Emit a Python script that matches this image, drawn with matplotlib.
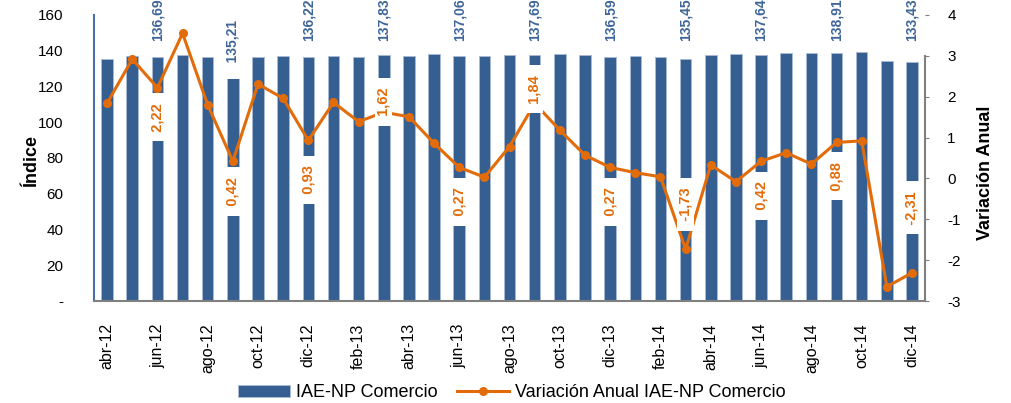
import numpy as np
import matplotlib
import matplotlib.pyplot as plt

matplotlib.use('Agg')
plt.rcParams['axes.unicode_minus'] = False
plt.rcParams['font.family'] = ['Liberation Sans', 'DejaVu Sans']

# Data
months = ['abr-12', 'may-12', 'jun-12', 'jul-12', 'ago-12', 'sep-12', 'oct-12', 'nov-12', 'dic-12',
          'ene-13', 'feb-13', 'mar-13', 'abr-13', 'may-13', 'jun-13', 'jul-13', 'ago-13', 'sep-13',
          'oct-13', 'nov-13', 'dic-13', 'ene-14', 'feb-14', 'mar-14', 'abr-14', 'may-14', 'jun-14',
          'jul-14', 'ago-14', 'sep-14', 'oct-14', 'nov-14', 'dic-14']
indice = [135.2, 137.0, 136.69, 137.4, 136.7, 135.21, 136.7, 137.0, 136.22,
          137.0, 136.7, 137.83, 137.3, 138.2, 137.06, 137.3, 137.7, 137.69,
          138.0, 137.7, 136.59, 137.0, 136.5, 135.45, 137.7, 138.0, 137.64,
          138.5, 138.5, 138.91, 139.5, 134.1, 133.43]
variacion = [1.84, 2.92, 2.22, 3.55, 1.80, 0.42, 2.31, 1.96, 0.93,
             1.86, 1.39, 1.62, 1.51, 0.86, 0.27, 0.03, 0.78, 1.84,
             1.18, 0.57, 0.27, 0.14, 0.04, -1.73, 0.33, -0.08, 0.42,
             0.63, 0.35, 0.88, 0.92, -2.65, -2.31]
labeled = [2, 5, 8, 11, 14, 17, 20, 23, 26, 29, 32]

# label placement (not data)
var_label_y = [1.50, -0.32, -0.03, 1.88, -0.57, 2.18, -0.57, -0.63, -0.42, 0.05, -0.72]
bar_label_y = 145.5

BLUE = '#365f91'
ORANGE = '#e36c0a'
LABEL_BLUE = '#3f6699'
GRAY = '#808080'

fig = plt.figure(figsize=(10.11, 4.03), dpi=100)
ax = fig.add_axes([0.093, 0.2531, 0.822, 0.7097])
ax2 = ax.twinx()

x = np.arange(len(months))
ax.bar(x, indice, width=0.46, color=BLUE, edgecolor='#a9bbd5', linewidth=0.6, zorder=2,
       label='IAE-NP Comercio')
ax.set_xlim(-0.52, len(months) - 0.48)
ax.set_ylim(0, 160)
ax.set_yticks(np.arange(0, 161, 20))
ax.set_yticklabels(['-'] + [str(v) for v in range(20, 161, 20)])
ax.set_xticks(x[::2])
ax.set_xticklabels(months[::2], rotation=90)
ax.tick_params(axis='x', length=0, pad=16, labelsize=11.5)
ax.tick_params(axis='y', length=0, pad=22, labelsize=11)
ax.set_ylabel('Índice', fontsize=13, fontweight='bold')
ax.yaxis.set_label_coords(-0.065, 0.49)

for s in ['top', 'right']:
    ax.spines[s].set_visible(False)
ax.spines['left'].set_color('#4a70a8')
ax.spines['left'].set_linewidth(1.5)
ax.spines['bottom'].set_color(GRAY)
ax.spines['bottom'].set_linewidth(1.5)

ax2.plot(x, variacion, color=ORANGE, lw=2.2, marker='o', ms=5.5, zorder=3,
         label='Variación Anual IAE-NP Comercio')
ax2.set_ylim(-3, 4)
ax2.set_yticks(np.arange(-3, 5, 1))
ax2.tick_params(axis='y', length=3, color=GRAY, pad=13, labelsize=11)
ax2.set_ylabel('Variación Anual', fontsize=13, fontweight='bold')
ax2.yaxis.set_label_coords(1.0626, 0.448)
for s in ['top', 'left', 'bottom']:
    ax2.spines[s].set_visible(False)
ax2.spines['right'].set_bounds(-3, 3)
ax2.spines['right'].set_color(GRAY)
ax2.spines['right'].set_linewidth(1.5)

# bar value labels
for i in labeled:
    txt = f'{indice[i]:.2f}'.replace('.', ',')
    yb = bar_label_y
    if i == 5:
        yb = 125
        txt = '    ' + txt
    ax.text(x[i], yb, txt, rotation=90, ha='center', va='bottom', color=LABEL_BLUE,
            fontsize=10, fontweight='bold', clip_on=False, zorder=4,
            bbox=dict(facecolor='white', edgecolor='none', pad=1))

# variation labels
for i, ly in zip(labeled, var_label_y):
    txt = '  ' + f'{variacion[i]:.2f}'.replace('.', ',') + '  '
    ax2.text(x[i], ly, txt, rotation=90, ha='center', va='center', color=ORANGE,
             fontsize=10.5, fontweight='bold', zorder=5,
             bbox=dict(facecolor='white', edgecolor='none', pad=1))

h1, l1 = ax.get_legend_handles_labels()
h2, l2 = ax2.get_legend_handles_labels()
fig.legend(h1 + h2, l1 + l2, loc='center', bbox_to_anchor=(0.506, 0.025), ncol=2,
           frameon=False, fontsize=13, handlelength=2.9, handleheight=0.67,
           columnspacing=1.05, handletextpad=0.33, borderpad=0)

fig.savefig('out.png', dpi=100)
